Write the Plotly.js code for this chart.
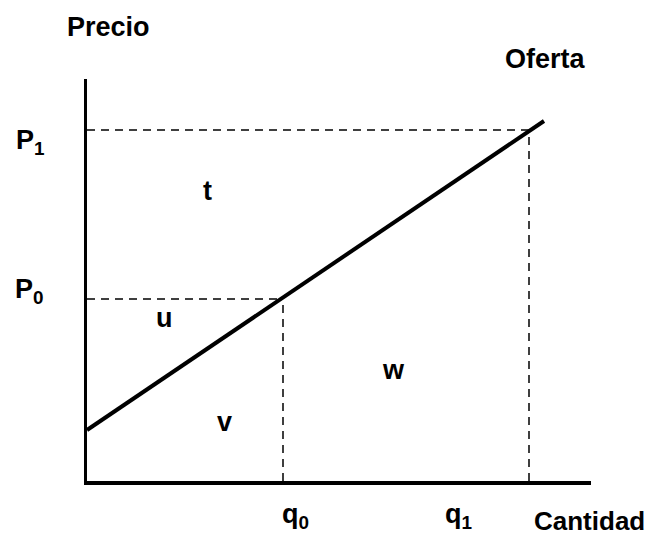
<!DOCTYPE html>
<html>
<head>
<meta charset="utf-8">
<script src="https://cdn.plot.ly/plotly-3.0.1.min.js"></script>
<style>html,body{margin:0;padding:0;background:#fff;}</style>
</head>
<body>
<div id="chart" style="width:656px;height:535px;"></div>
<script>
// Supply curve (Oferta) in chart units
const supplyQ = [0, 457];
const supplyP = [51, 360];
// Equilibrium points
const q0 = 196, P0 = 182;
const q1 = 442, P1 = 351;
// Area labels
const areaNames = ['t', 'u', 'v', 'w'];
const areaQ = [120, 77, 137, 306];
const areaP = [290, 163, 59, 111];

const FONT = 'Liberation Sans, Arial, Helvetica, sans-serif';
const lbl = {family: FONT, size: 27, color: '#000'};

const dashStyle = {color: '#000', width: 1.5, dash: '8px,6px'};

const traces = [
  {x: [0, q1], y: [P1, P1], mode: 'lines', line: dashStyle, hoverinfo: 'skip'},
  {x: [q1, q1], y: [0, P1], mode: 'lines', line: dashStyle, hoverinfo: 'skip'},
  {x: [0, q0], y: [P0, P0], mode: 'lines', line: dashStyle, hoverinfo: 'skip'},
  {x: [q0, q0], y: [0, P0], mode: 'lines', line: dashStyle, hoverinfo: 'skip'},
  {x: supplyQ, y: supplyP, mode: 'lines', line: {color: '#000', width: 4}, hoverinfo: 'skip'}
];

const annotations = areaNames.map((n, i) => ({
  x: areaQ[i], y: areaP[i], xref: 'x', yref: 'y', text: '<b>' + n + '</b>',
  showarrow: false, font: lbl, xanchor: 'center', yanchor: 'middle'
}));

annotations.push(
  {xref: 'paper', yref: 'paper', x: 0.042, y: 1.129, text: '<b>Precio</b>', showarrow: false, font: lbl, xanchor: 'center', yanchor: 'middle'},
  {xref: 'paper', yref: 'paper', x: 0.909, y: 1.05, text: '<b>Oferta</b>', showarrow: false, font: lbl, xanchor: 'center', yanchor: 'middle'},
  {xref: 'paper', yref: 'paper', x: -0.145, y: 0.843, text: '<b>P<sub>1</sub></b>', showarrow: false, font: lbl, xanchor: 'left', yanchor: 'middle'},
  {xref: 'paper', yref: 'paper', x: -0.147, y: 0.473, text: '<b>P<sub>0</sub></b>', showarrow: false, font: lbl, xanchor: 'left', yanchor: 'middle'},
  {xref: 'paper', yref: 'paper', x: 0.413, y: -0.086, text: '<b>q<sub>0</sub></b>', showarrow: false, font: lbl, xanchor: 'center', yanchor: 'middle'},
  {xref: 'paper', yref: 'paper', x: 0.738, y: -0.086, text: '<b>q<sub>1</sub></b>', showarrow: false, font: lbl, xanchor: 'center', yanchor: 'middle'},
  {xref: 'paper', yref: 'paper', x: 0.998, y: -0.1, text: '<b>Cantidad</b>', showarrow: false, font: {family: FONT, size: 26, color: '#000'}, xanchor: 'center', yanchor: 'middle'}
);

const axisCommon = {
  showgrid: false, zeroline: false, showticklabels: false, ticks: '',
  showline: true, linecolor: '#000', linewidth: 3.5, fixedrange: true
};

const layout = {
  width: 656, height: 535,
  margin: {l: 87, r: 65, t: 79, b: 54},
  paper_bgcolor: '#fff', plot_bgcolor: '#fff',
  showlegend: false,
  xaxis: Object.assign({range: [0, 504]}, axisCommon),
  yaxis: Object.assign({range: [0, 402]}, axisCommon),
  annotations: annotations
};

Plotly.newPlot('chart', traces, layout, {staticPlot: true, displayModeBar: false});
</script>
</body>
</html>
